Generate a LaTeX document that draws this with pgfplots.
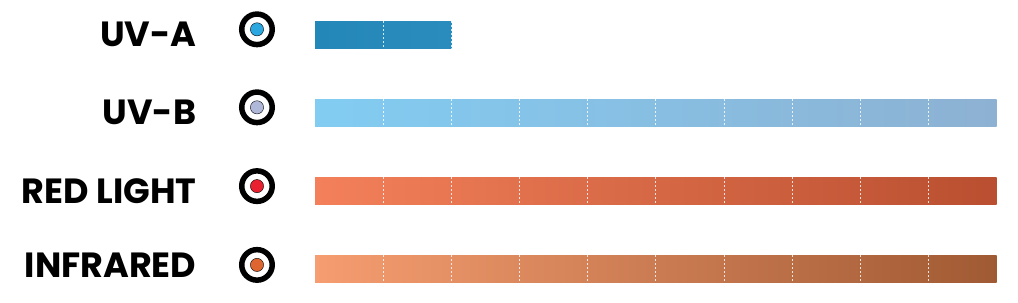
\documentclass[border=0pt]{standalone}
\usepackage{pgfplots}
\pgfplotsset{compat=1.18}
\usepackage{fontspec}
\setmainfont{Poppins}[BoldFont={Poppins Bold}]
\definecolor{uvaL}{HTML}{2387B8}
\definecolor{uvaR}{HTML}{2A8CBD}
\definecolor{uvbL}{HTML}{82CCF2}
\definecolor{uvbR}{HTML}{8DB1D2}
\definecolor{redL}{HTML}{F3805A}
\definecolor{redR}{HTML}{B94F30}
\definecolor{irL}{HTML}{F69D71}
\definecolor{irR}{HTML}{A05A33}
\definecolor{dotA}{HTML}{2BA8E0}
\definecolor{dotB}{HTML}{B0B8DA}
\definecolor{dotR}{HTML}{E8202F}
\definecolor{dotI}{HTML}{DE6530}
\begin{document}
\begin{tikzpicture}
\begin{axis}[
  scale only axis, width=1018pt, height=302pt,
  xmin=-4.621, xmax=10.313, ymin=-0.4256, ymax=3.446,
  axis lines=none, ticks=none, clip=false,
]
\path[draw=none] (rel axis cs:0,0) rectangle (rel axis cs:1,1);
% bars
\addplot[xbar, bar width=27.5pt, bar shift=0pt, draw=none, left color=uvaL, right color=uvaR] coordinates {(2,3)};
\addplot[xbar, bar width=27.5pt, bar shift=0pt, draw=none, left color=uvbL, right color=uvbR] coordinates {(10,2)};
\addplot[xbar, bar width=27.5pt, bar shift=0pt, draw=none, left color=redL, right color=redR] coordinates {(10,1)};
\addplot[xbar, bar width=27.5pt, bar shift=0pt, draw=none, left color=irL, right color=irR] coordinates {(10,0)};
% dotted segment dividers
\addplot[only marks, mark=|, mark size=13.75pt, mark options={draw=white, draw opacity=0.8, line width=1pt, dash pattern=on 2pt off 2pt}] coordinates {
(1,3) (2,3)
(1,2) (2,2) (3,2) (4,2) (5,2) (6,2) (7,2) (8,2) (9,2)
(1,1) (2,1) (3,1) (4,1) (5,1) (6,1) (7,1) (8,1) (9,1)
(1,0) (2,0) (3,0) (4,0) (5,0) (6,0) (7,0) (8,0) (9,0)
};
% circle icons
\addplot[only marks, mark=*, mark size=15.25pt, mark options={draw=black, fill=white, line width=5.5pt}] coordinates {(-0.851,3.07) (-0.851,2.07) (-0.851,1.06) (-0.851,0.05)};
\addplot[only marks, mark=*, mark size=6.6pt, mark options={draw=none, fill=dotA}] coordinates {(-0.851,3.07)};
\addplot[only marks, mark=*, mark size=6.6pt, mark options={draw=none, fill=dotB}] coordinates {(-0.851,2.07)};
\addplot[only marks, mark=*, mark size=6.6pt, mark options={draw=none, fill=dotR}] coordinates {(-0.851,1.06)};
\addplot[only marks, mark=*, mark size=6.6pt, mark options={draw=none, fill=dotI}] coordinates {(-0.851,0.05)};
% labels
\node[anchor=east, inner sep=0pt, font=\fontsize{35}{35}\selectfont\bfseries] at (axis cs:-1.738,3.01) {UV-A};
\node[anchor=east, inner sep=0pt, font=\fontsize{35}{35}\selectfont\bfseries] at (axis cs:-1.738,2.01) {UV-B};
\node[anchor=east, inner sep=0pt, font=\fontsize{35}{35}\selectfont\bfseries] at (axis cs:-1.738,1.0) {RED LIGHT};
\node[anchor=east, inner sep=0pt, font=\fontsize{35}{35}\selectfont\bfseries] at (axis cs:-1.738,0.05) {INFRARED};
\end{axis}
\end{tikzpicture}
\end{document}
